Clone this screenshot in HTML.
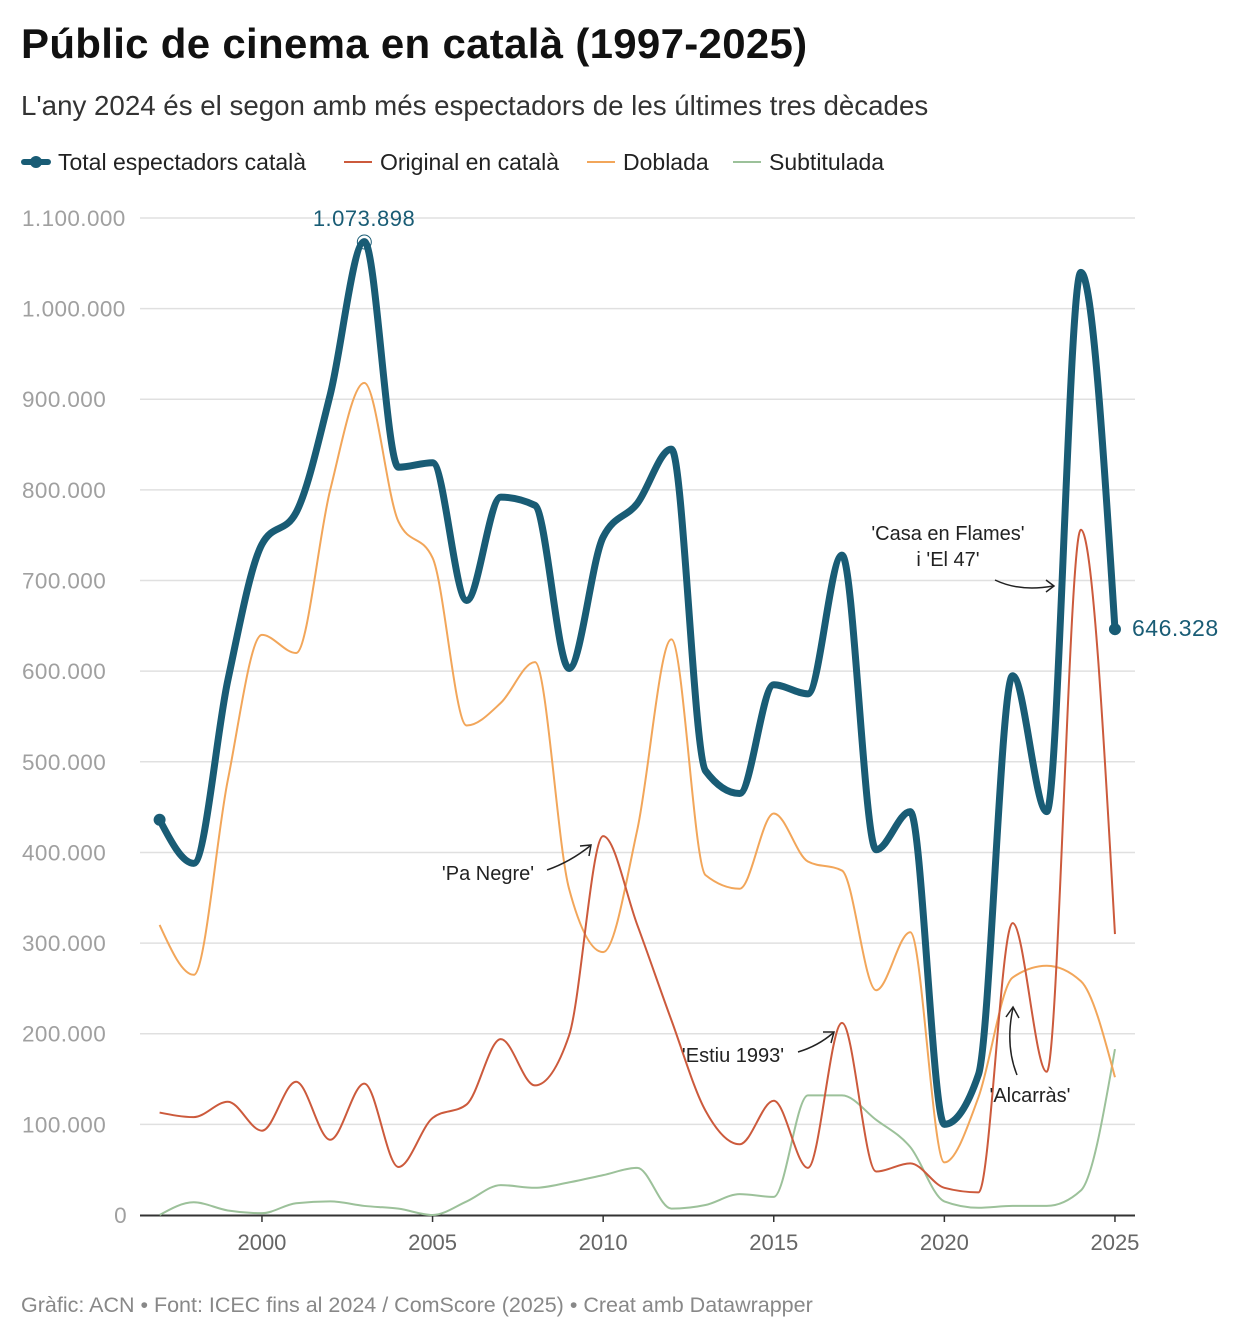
<!DOCTYPE html>
<html><head><meta charset="utf-8"><style>
body{margin:0;background:#fff;font-family:"Liberation Sans",Roboto,sans-serif;}
#w{position:relative;width:1240px;height:1342px;overflow:hidden}
h1{position:absolute;left:21px;top:20px;margin:0;font-size:42px;font-weight:bold;color:#111;letter-spacing:0.3px}
.sub{position:absolute;left:21px;top:90px;font-size:27.7px;color:#333}
.foot{position:absolute;left:21px;top:1293px;font-size:21.5px;color:#888}
</style></head><body><div id="w">
<h1>Públic de cinema en català (1997-2025)</h1>
<div class="sub">L'any 2024 és el segon amb més espectadors de les últimes tres dècades</div>
<svg id="s" width="1240" height="1342" style="position:absolute;left:0;top:0" font-family="Liberation Sans, sans-serif"></svg>
<div class="foot">Gràfic: ACN • Font: ICEC fins al 2024 / ComScore (2025) • Creat amb Datawrapper</div>
</div>
<script>
var s=document.getElementById('s'),h='';
function X(y){return 159.6+(y-1997)*34.12}
function Y(v){return 1215-v*0.9064}
h+='<line x1="24" y1="162" x2="48" y2="162" stroke="#195c75" stroke-width="6" stroke-linecap="round"/><circle cx="36" cy="162" r="6" fill="#195c75"/>';
h+='<text x="58" y="170" font-size="23" fill="#222">Total espectadors català</text>';
h+='<line x1="344" y1="162" x2="372" y2="162" stroke="#cc5a3c" stroke-width="2"/><text x="380" y="170" font-size="23" fill="#222">Original en català</text>';
h+='<line x1="587" y1="162" x2="615" y2="162" stroke="#f2a65a" stroke-width="2"/><text x="623" y="170" font-size="23" fill="#222">Doblada</text>';
h+='<line x1="733" y1="162" x2="761" y2="162" stroke="#9cc19a" stroke-width="2"/><text x="769" y="170" font-size="23" fill="#222">Subtitulada</text>';
var lab=['0','100.000','200.000','300.000','400.000','500.000','600.000','700.000','800.000','900.000','1.000.000','1.100.000'];
for(var i=0;i<12;i++){var y=Y(i*100);
 if(i>0)h+='<line x1="140" x2="1135" y1="'+y+'" y2="'+y+'" stroke="#e0e0e0" stroke-width="1.5"/>';
 h+='<text x="'+(i==0?127:22)+'" y="'+(y+8)+'" font-size="22.5" letter-spacing="0.4" fill="#a0a0a0" text-anchor="'+(i==0?'end':'start')+'">'+lab[i]+'</text>';}
h+='<line x1="140" x2="1135" y1="1215.5" y2="1215.5" stroke="#333" stroke-width="2"/>';
[2000,2005,2010,2015,2020,2025].forEach(function(yr){h+='<line x1="'+X(yr)+'" x2="'+X(yr)+'" y1="1216" y2="1222" stroke="#333" stroke-width="1.5"/><text x="'+X(yr)+'" y="1250" font-size="22" fill="#666" text-anchor="middle">'+yr+'</text>';});
function path(d){var n=d.length,x=[],y=[],m=[],t=[];
 for(var i=0;i<n;i++){x.push(X(1997+i));y.push(Y(d[i]));}
 var hh=34.12;
 for(var i=0;i<n-1;i++)m.push((y[i+1]-y[i])/hh);
 for(var i=1;i<n-1;i++){var a=m[i-1],b=m[i];
  t[i]=(a*b<=0)?0:( (Math.sign(a)+Math.sign(b))*Math.min(Math.abs(a),Math.abs(b),0.5*Math.abs((a+b)/2)) );}
 t[0]=(3*m[0]-t[1])/2; t[n-1]=(3*m[n-2]-t[n-2])/2;
 var r='M'+x[0]+','+y[0];
 for(var i=0;i<n-1;i++){var dx=hh/3;
  r+='C'+(x[i]+dx)+','+(y[i]+t[i]*dx)+' '+(x[i+1]-dx)+','+(y[i+1]-t[i+1]*dx)+' '+x[i+1]+','+y[i+1];}
 return r;}
var g=[0,14,5,2,13,15,10,7,0,15,33,30,36,44,52,7,11,23,20,132,132,105,75,15,8,10,10,27,183];
var o=[320,265,480,640,620,800,918,765,725,540,565,610,360,290,425,635,375,360,443,390,380,248,312,58,130,262,275,258,152];
var r=[113,108,125,93,147,83,145,53,107,122,194,143,198,418,320,215,115,78,126,52,212,48,57,30,25,322,158,756,310];
var t=[436,388,590,740,775,905,1073.9,825,830,678,792,783,603,748,785,845,490,465,585,575,728,403,445,100,155,595,445,1040,646.3];
h+='<path d="'+path(g)+'" fill="none" stroke="#9cc19a" stroke-width="2"/>';
h+='<path d="'+path(o)+'" fill="none" stroke="#f2a65a" stroke-width="2"/>';
h+='<path d="'+path(r)+'" fill="none" stroke="#cc5a3c" stroke-width="2"/>';
h+='<path d="'+path(t)+'" fill="none" stroke="#195c75" stroke-width="7" stroke-linejoin="round"/>';
h+='<circle cx="'+X(1997)+'" cy="'+Y(436)+'" r="6" fill="#195c75"/><circle cx="'+X(2025)+'" cy="'+Y(646.3)+'" r="6" fill="#195c75"/>';
h+='<circle cx="'+X(2003)+'" cy="242" r="7" fill="none" stroke="#195c75" stroke-width="1"/>';
h+='<text x="364" y="226" font-size="22" letter-spacing="0.5" fill="#195c75" text-anchor="middle">1.073.898</text>';
h+='<text x="1132" y="636" font-size="23" letter-spacing="0.5" fill="#195c75">646.328</text>';
function ann(x,y,l){return '<text x="'+x+'" y="'+y+'" font-size="20" fill="#222" text-anchor="middle">'+l+'</text>'}
h+=ann(948,540,"'Casa en Flames'")+ann(948,566,"i 'El 47'");
h+='<path d="M995 580 Q1020 592 1053 586" fill="none" stroke="#222" stroke-width="1.5"/><path d="M1046 580 L1054 586 L1046 592" fill="none" stroke="#222" stroke-width="1.5"/>';
h+=ann(488,880,"'Pa Negre'");
h+='<path d="M547 870 Q570 862 590 846" fill="none" stroke="#222" stroke-width="1.5"/><path d="M580 846 L591 845 L589 856" fill="none" stroke="#222" stroke-width="1.5"/>';
h+=ann(733,1062,"'Estiu 1993'");
h+='<path d="M798 1052 Q818 1046 833 1033" fill="none" stroke="#222" stroke-width="1.5"/><path d="M823 1032 L834 1032 L831 1043" fill="none" stroke="#222" stroke-width="1.5"/>';
h+=ann(1030,1102,"'Alcarràs'");
h+='<path d="M1017 1075 Q1005 1045 1013 1008" fill="none" stroke="#222" stroke-width="1.5"/><path d="M1006 1017 L1013 1007 L1019 1018" fill="none" stroke="#222" stroke-width="1.5"/>';
s.innerHTML=h;
</script></body></html>
